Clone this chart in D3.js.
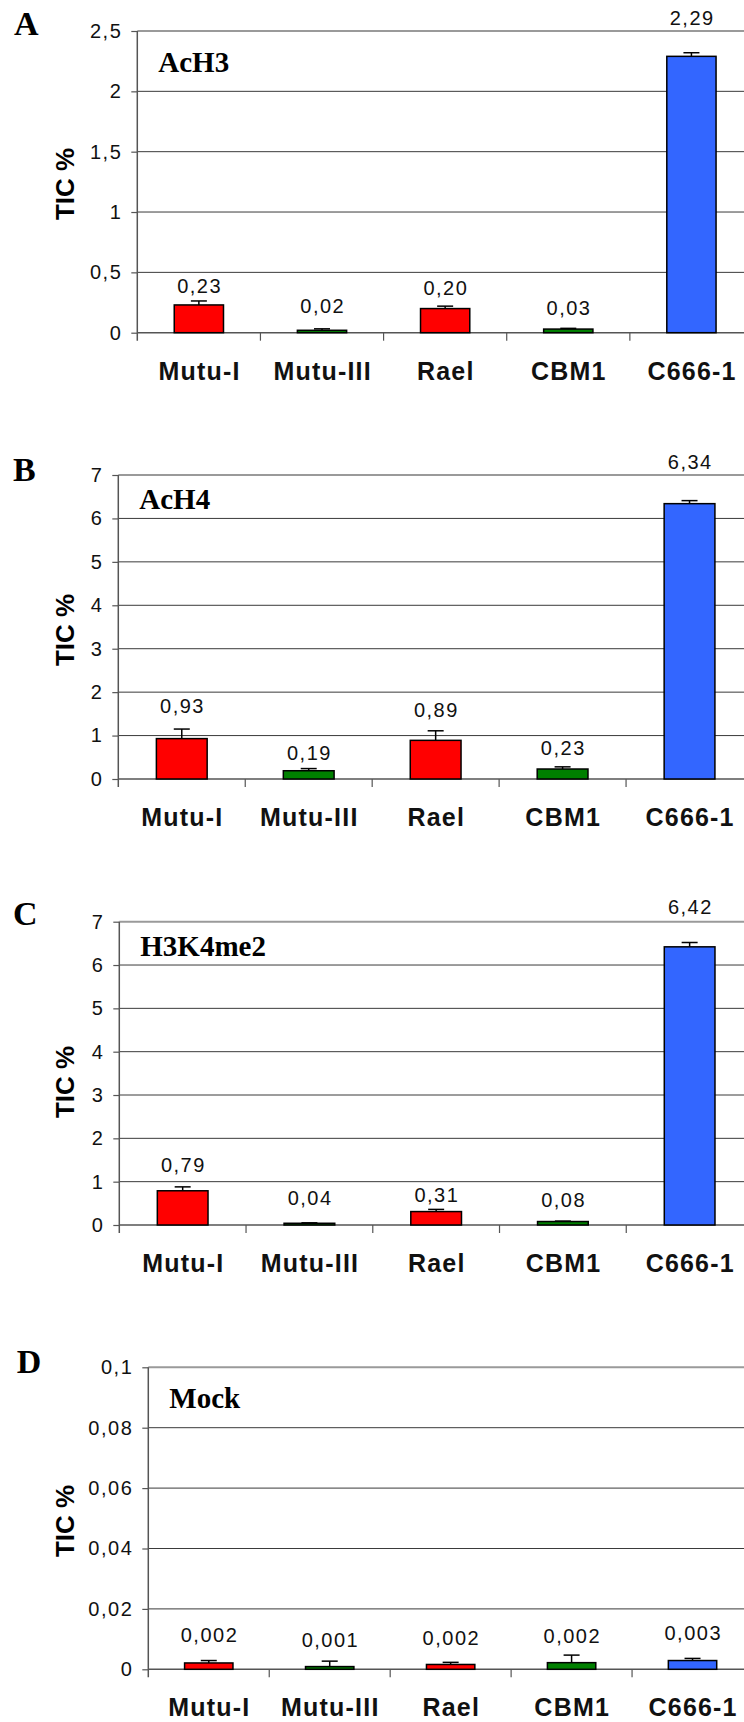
<!DOCTYPE html>
<html><head><meta charset="utf-8">
<script src="https://cdn.jsdelivr.net/npm/d3@7"></script>
<style>body{margin:0;background:#fff}svg{display:block}</style>
</head><body>
<script>
// ---- data ----
const categories = ["Mutu-I", "Mutu-III", "Rael", "CBM1", "C666-1"];
const panelLetters = ["A", "B", "C", "D"];
const panelTitles = ["AcH3", "AcH4", "H3K4me2", "Mock"];

const acH3Values = [0.23, 0.02, 0.20, 0.03, 2.29];
const acH3Errors = [0.033, 0.012, 0.02, 0.006, 0.03];
const acH3Ticks = [0, 0.5, 1, 1.5, 2, 2.5];

const acH4Values = [0.93, 0.19, 0.89, 0.23, 6.34];
const acH4Errors = [0.22, 0.05, 0.22, 0.05, 0.07];
const acH4Ticks = [0, 1, 2, 3, 4, 5, 6, 7];

const h3k4me2Values = [0.79, 0.04, 0.31, 0.08, 6.42];
const h3k4me2Errors = [0.09, 0.01, 0.05, 0.01, 0.10];
const h3k4me2Ticks = [0, 1, 2, 3, 4, 5, 6, 7];

const mockValues = [0.0021, 0.0009, 0.0016, 0.0022, 0.0029];
const mockErrors = [0.0008, 0.0018, 0.0007, 0.0025, 0.0007];
const mockTicks = [0, 0.02, 0.04, 0.06, 0.08, 0.1];

const yAxisTitle = "TIC %";

// ---- styles / layout ----
const barColors = {"Mutu-I": "#FF0000", "Mutu-III": "#008000", "Rael": "#FF0000", "CBM1": "#008000", "C666-1": "#3366FF"};
const W = 744, H = 1722, plotRight = 753;
const SANS = "'Liberation Sans', Arial, sans-serif";
const SERIF = "'Liberation Serif', 'Times New Roman', serif";

const panels = [
  {values: acH3Values, errors: acH3Errors, ticks: acH3Ticks, digits: 2, tickDigits: 1},
  {values: acH4Values, errors: acH4Errors, ticks: acH4Ticks, digits: 2, tickDigits: 0},
  {values: h3k4me2Values, errors: h3k4me2Errors, ticks: h3k4me2Ticks, digits: 2, tickDigits: 0},
  {values: mockValues, errors: mockErrors, ticks: mockTicks, digits: 3, tickDigits: 2}
];
const layout = [
  {axisX: 137.3, yTop: 31, yBottom: 332.7, letterX: 14, letterY: 35, titleY: 72, yLabelY: 184, gaps: [8, 16, 11, 13, 28]},
  {axisX: 118.3, yTop: 475, yBottom: 779, letterX: 13, letterY: 481, titleY: 509, yLabelY: 630, gaps: [16, 9, 14, 12, 32]},
  {axisX: 119.3, yTop: 921.7, yBottom: 1225, letterX: 13, letterY: 925, titleY: 956, yLabelY: 1082, gaps: [15, 18, 7, 14, 28]},
  {axisX: 148.3, yTop: 1367.3, yBottom: 1669.3, letterX: 16.7, letterY: 1372.7, titleY: 1408, yLabelY: 1521, gaps: [19, 14, 17, 12, 18]}
];

const comma = s => s.replace(".", ",");
function tickFmt(d, digits) {
  if (d === 0) return "0";
  return comma(String(+d.toFixed(digits)));
}

const svg = d3.select("body").append("svg").attr("width", W).attr("height", H)
  .style("background", "#fff");

panels.forEach((p, i) => {
  const L = layout[i];
  const g = svg.append("g");
  const x = d3.scaleBand().domain(categories).range([L.axisX, plotRight])
    .paddingInner(0.6).paddingOuter(0.3);
  const y = d3.scaleLinear().domain([0, d3.max(p.ticks)]).range([L.yBottom, L.yTop]);

  // gridlines
  const top = d3.max(p.ticks);
  g.selectAll("line.grid").data(p.ticks.filter(t => t > 0)).join("line")
    .attr("x1", L.axisX).attr("x2", W)
    .attr("y1", d => y(d)).attr("y2", d => y(d))
    .attr("stroke", d => d === top ? "#9a9a9a" : "#3a3a3a")
    .attr("stroke-width", d => d === top ? 2 : 1);

  // y axis
  const yAxis = d3.axisLeft(y).tickValues(p.ticks).tickSize(6).tickPadding(9)
    .tickSizeOuter(0).tickFormat(d => tickFmt(d, p.tickDigits));
  const ya = g.append("g").attr("transform", `translate(${L.axisX},0)`).call(yAxis);
  ya.select(".domain").remove();
  ya.selectAll(".tick line").attr("stroke", "#555").attr("stroke-width", 1.2);
  ya.selectAll(".tick text").attr("font-family", SANS).attr("font-size", 20)
    .attr("letter-spacing", "1.5px").attr("fill", "#111");
  g.append("line").attr("x1", L.axisX).attr("x2", L.axisX)
    .attr("y1", L.yTop).attr("y2", L.yBottom + 8)
    .attr("stroke", "#555").attr("stroke-width", 1.5);

  // x axis line + boundary ticks
  g.append("line").attr("x1", L.axisX).attr("x2", W)
    .attr("y1", L.yBottom).attr("y2", L.yBottom)
    .attr("stroke", "#555").attr("stroke-width", 1.5);
  const step = x.step();
  const bounds = categories.map(c => x(c) - step * x.paddingInner() / 2);
  g.selectAll("line.xt").data(bounds.slice(1)).join("line")
    .attr("x1", d => d).attr("x2", d => d)
    .attr("y1", L.yBottom).attr("y2", L.yBottom + 8)
    .attr("stroke", "#555").attr("stroke-width", 1.2);

  // category labels
  const xAxis = d3.axisBottom(x).tickSize(0).tickPadding(0);
  const xa = g.append("g").attr("transform", `translate(0,${L.yBottom})`).call(xAxis);
  xa.select(".domain").remove();
  xa.selectAll(".tick text").attr("dy", null).attr("y", 47).attr("x", 0.6)
    .attr("font-family", SANS).attr("font-size", 25).attr("font-weight", "bold")
    .attr("letter-spacing", "1.2px").attr("fill", "#111");

  // bars
  const data = categories.map((c, j) => ({c, v: p.values[j], e: p.errors[j], gap: L.gaps[j]}));
  g.selectAll("rect.bar").data(data).join("rect")
    .attr("x", d => x(d.c)).attr("width", x.bandwidth())
    .attr("y", d => y(d.v)).attr("height", d => y(0) - y(d.v))
    .attr("fill", d => barColors[d.c]).attr("stroke", "#000").attr("stroke-width", 1.5);

  // error bars (upper)
  const cx = d => x(d.c) + x.bandwidth() / 2;
  g.selectAll("line.err").data(data).join("line")
    .attr("x1", cx).attr("x2", cx)
    .attr("y1", d => y(d.v)).attr("y2", d => y(d.v + d.e))
    .attr("stroke", "#000").attr("stroke-width", 1.5);
  g.selectAll("line.cap").data(data).join("line")
    .attr("x1", d => cx(d) - 8).attr("x2", d => cx(d) + 8)
    .attr("y1", d => y(d.v + d.e)).attr("y2", d => y(d.v + d.e))
    .attr("stroke", "#000").attr("stroke-width", 1.5);

  // value labels
  g.selectAll("text.val").data(data).join("text")
    .attr("x", d => cx(d) + 0.75).attr("y", d => y(d.v + d.e) - d.gap)
    .attr("text-anchor", "middle")
    .attr("font-family", SANS).attr("font-size", 20).attr("letter-spacing", "1.5px")
    .attr("fill", "#111")
    .text(d => comma(d.v.toFixed(p.digits)));

  // panel letter
  g.append("text").attr("x", L.letterX).attr("y", L.letterY)
    .attr("font-family", SERIF).attr("font-weight", "bold").attr("font-size", 34)
    .text(panelLetters[i]);
  // title
  g.append("text").attr("x", L.axisX + 21).attr("y", L.titleY)
    .attr("font-family", SERIF).attr("font-weight", "bold").attr("font-size", 29)
    .text(panelTitles[i]);
  // y axis title
  g.append("text").attr("transform", `translate(65,${L.yLabelY}) rotate(-90)`)
    .attr("text-anchor", "middle").attr("dy", "0.35em")
    .attr("font-family", SANS).attr("font-weight", "bold").attr("font-size", 26)
    .text(yAxisTitle);
});
</script>
</body></html>
